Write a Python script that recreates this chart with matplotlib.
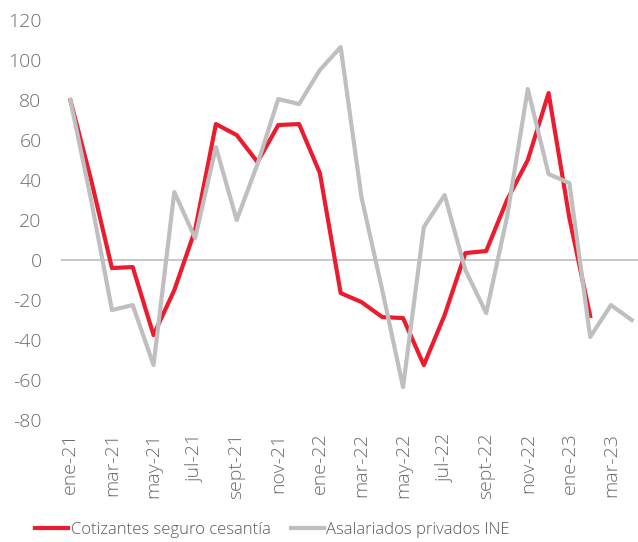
import matplotlib.pyplot as plt
import numpy as np

plt.rcParams['font.family'] = ['Open Sans', 'DejaVu Sans']
plt.rcParams['font.weight'] = 'light'
plt.rcParams['axes.unicode_minus'] = False

meses = ['ene-21', 'feb-21', 'mar-21', 'abr-21', 'may-21', 'jun-21', 'jul-21', 'ago-21',
         'sept-21', 'oct-21', 'nov-21', 'dic-21', 'ene-22', 'feb-22', 'mar-22', 'abr-22',
         'may-22', 'jun-22', 'jul-22', 'ago-22', 'sept-22', 'oct-22', 'nov-22', 'dic-22',
         'ene-23', 'feb-23', 'mar-23', 'abr-23']

# Cotizantes seguro cesantía (hasta feb-23)
cotizantes = [80, 40, -4, -3.5, -37.5, -15, 15, 68, 62.5, 49, 67.5, 68,
              43.5, -16.5, -21, -28.5, -29, -52.5, -27.5, 3.5, 4.5, 30, 50, 83.5,
              21, -28]

# Asalariados privados INE (hasta abr-23)
asalariados = [80, 30, -25, -22.5, -52.5, 34, 11, 56.5, 20, 48, 80.5, 78,
               95, 106.5, 31.5, -15, -63.5, 16.5, 32.5, -5, -26.5, 21.5, 85.5, 43,
               38.5, -38.5, -22.5, -30]

rojo = '#EC1C2E'
gris = '#BFBFBF'

fig = plt.figure(figsize=(6.38, 5.42), dpi=100)
ax = fig.add_axes([0.0956, 0.225, 0.9044, 0.738])

x = np.arange(len(meses))
ax.axhline(0, color=gris, lw=1.2, zorder=1)
ax.plot(x[:len(cotizantes)], cotizantes, color=rojo, lw=3, label='Cotizantes seguro cesantía', zorder=2)
ax.plot(x, asalariados, color=gris, lw=3, label='Asalariados privados INE', zorder=3)

ax.set_ylim(-80, 120)
ax.set_yticks(range(-80, 121, 20))
ax.set_xlim(-0.45, 27.3)
ax.set_xticks(x[::2])
ax.set_xticklabels(meses[::2], rotation=90)

for s in ax.spines.values():
    s.set_visible(False)
ax.tick_params(axis='both', length=0, labelsize=14, colors='#6b6b6b')
ax.tick_params(axis='y', pad=14)
ax.tick_params(axis='x', pad=9)

fig.legend(loc='center', bbox_to_anchor=(0.427, 0.022), ncol=2, frameon=False,
           fontsize=12, handlelength=2.0, handletextpad=0.15, columnspacing=1.2,
           labelcolor='#5a5a5a')

fig.savefig('out.png', dpi=100)
